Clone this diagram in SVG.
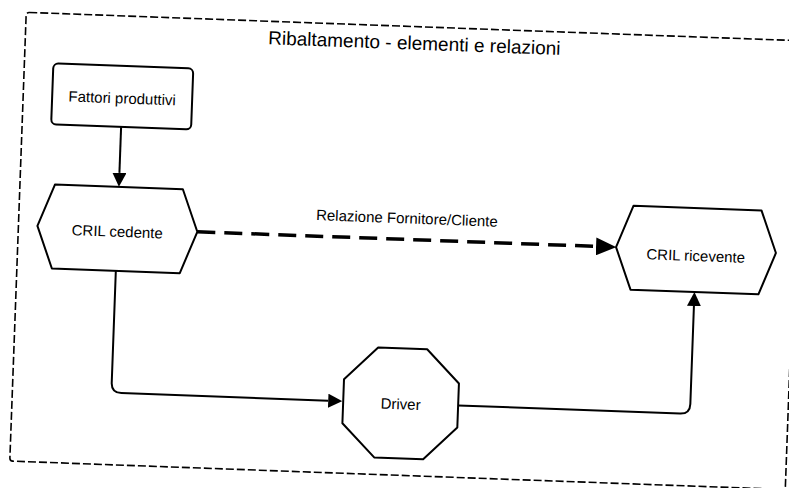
<svg xmlns="http://www.w3.org/2000/svg" width="789" height="488" viewBox="0 0 789 488">
<style>
.node{fill:#fff;stroke:#000;stroke-width:2;stroke-linejoin:round}
.lbl{font-family:"Liberation Sans",Arial,sans-serif;font-size:15px;fill:#000;text-anchor:middle}
.con{fill:none;stroke:#000;stroke-width:2}
.dash{fill:none;stroke:#000;stroke-width:3.5;stroke-dasharray:18 9}
.frame{fill:none;stroke:#000;stroke-width:1.6;stroke-dasharray:8 3}
</style>
<defs>
<marker id="ah" viewBox="0 0 14 14" markerUnits="userSpaceOnUse" markerWidth="14" markerHeight="14" refX="0" refY="7" orient="auto">
<path d="M0,0 L14,7 L0,14 z" fill="#000"/>
</marker>
<marker id="ahb" viewBox="0 0 20 18" markerUnits="userSpaceOnUse" markerWidth="20" markerHeight="18" refX="0" refY="9" orient="auto">
<path d="M0,0 L20,9 L0,18 z" fill="#000"/>
</marker>
</defs>
<rect width="789" height="488" fill="#fff"/>
<g transform="rotate(2.1 394.5 244)">
<g id="frame">
<rect class="frame" x="18" y="26" width="776" height="449" rx="3"/>
<text x="407" y="49" font-family="'Liberation Sans',Arial,sans-serif" font-size="19" text-anchor="middle">Ribaltamento - elementi e relazioni</text>
</g>
<g id="connectors">
<path class="con" d="M117,137 V183" marker-end="url(#ah)"/>
<path class="con" d="M117,281 V393 Q117,403 127,403 H334" marker-end="url(#ah)"/>
<path class="con" d="M464,403 H686 Q696,403 696,393 V295" marker-end="url(#ah)"/>
<path class="dash" d="M197,239 H596" marker-end="url(#ahb)"/>
<text class="lbl" x="406" y="223">Relazione Fornitore/Cliente</text>
</g>
<g id="fattori">
<rect class="node" x="47" y="76" width="140" height="61" rx="5"/>
<text class="lbl" x="117" y="113.5">Fattori produttivi</text>
</g>
<g id="cedente">
<polygon class="node" points="37,239 53,197 181,197 197,239 181,281 53,281"/>
<text class="lbl" x="117" y="247">CRIL cedente</text>
</g>
<g id="ricevente">
<polygon class="node" points="616,239 632,197 760,197 776,239 760,281 632,281"/>
<text class="lbl" x="696" y="250">CRIL ricevente</text>
</g>
<g id="driver">
<polygon class="node" points="382,348 431,348 464,381 464,425 431,458 382,458 349,425 349,381"/>
<text class="lbl" x="406.5" y="409">Driver</text>
</g>
</g>
</svg>
